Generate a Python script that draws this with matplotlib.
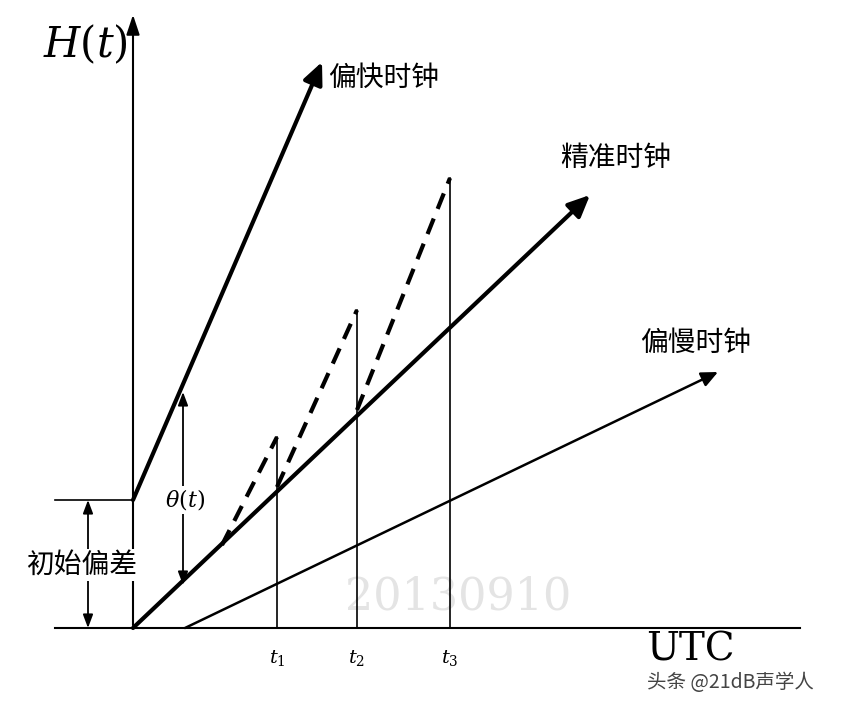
import matplotlib
matplotlib.use("Agg")
import matplotlib.pyplot as plt

plt.rcParams["font.family"] = ["Noto Sans CJK SC", "DejaVu Sans"]
plt.rcParams["mathtext.fontset"] = "dejavuserif"

# diagram geometry in picture units (x right, y down)
origin = (133, 628)
offset_y = 500
fast_clock = [(133, 500), (322, 62)]
true_clock = [(133, 628), (590, 195)]
slow_clock = [(185, 628), (718, 372)]
tick_x = [277, 357, 450]
tick_top = [437, 310, 178]
dash_start = [(222, 545), (277, 487), (357, 410)]
tick_labels = ["$t_1$", "$t_2$", "$t_3$"]

fig = plt.figure(figsize=(8.42, 7.06), dpi=100)
ax = fig.add_axes([0, 0, 1, 1])
ax.set_xlim(0, 842)
ax.set_ylim(706, 0)
ax.axis("off")

k = dict(color="black")
# axes
ax.annotate("", xy=(133, 12), xytext=origin,
            arrowprops=dict(arrowstyle="-|>,head_length=1.2,head_width=0.4", lw=1.5, **k))
ax.plot([55, 800], [628, 628], lw=1.5, **k)
ax.plot([55, 133], [offset_y, offset_y], lw=1.2, **k)

def arrow(p, lw, hw):
    ax.annotate("", xy=p[1], xytext=p[0],
                arrowprops=dict(arrowstyle=f"-|>,head_length={hw*2.2},head_width={hw}",
                                lw=lw, shrinkA=0, shrinkB=0, **k))

arrow(fast_clock, 3, 0.6)
arrow(true_clock, 3, 0.6)
arrow(slow_clock, 1.8, 0.45)

for x, top, s, lab in zip(tick_x, tick_top, dash_start, tick_labels):
    ax.plot([x, x], [628, top], lw=1.2, **k)
    ax.plot([s[0], x], [s[1], top], lw=3, ls=(0, (4, 2.5)), **k)
    ax.text(x, 658, lab, ha="center", va="center", fontsize=14)

# theta(t) and initial offset markers
ax.annotate("", xy=(183, 392), xytext=(183, 585),
            arrowprops=dict(arrowstyle="<|-|>,head_length=0.8,head_width=0.3", lw=1.3,
                            shrinkA=0, shrinkB=0, **k))
ax.text(185, 500, r"$\theta(t)$", ha="center", va="center", fontsize=16,
        bbox=dict(fc="white", ec="none", pad=1))
ax.annotate("", xy=(88, 500), xytext=(88, 628),
            arrowprops=dict(arrowstyle="<|-|>,head_length=0.8,head_width=0.3", lw=1.3,
                            shrinkA=0, shrinkB=0, **k))
ax.text(82, 565, "初始偏差", ha="center", va="center", fontsize=20,
        bbox=dict(fc="white", ec="none", pad=1))

ax.text(85, 45, r"$H(t)$", ha="center", va="center", fontsize=30)
ax.text(328, 78, "偏快时钟", ha="left", va="center", fontsize=20)
ax.text(560, 158, "精准时钟", ha="left", va="center", fontsize=20)
ax.text(640, 343, "偏慢时钟", ha="left", va="center", fontsize=20)
ax.text(690, 650, "UTC", ha="center", va="center", fontsize=28, family="DejaVu Serif")
ax.text(458, 597, "20130910", ha="center", va="center", fontsize=32, color="#e4e4e4",
        family="DejaVu Serif", zorder=0)
ax.text(730, 683, "头条 @21dB声学人", ha="center", va="center", fontsize=14, color="#444444")

fig.savefig("out.png", dpi=100)
